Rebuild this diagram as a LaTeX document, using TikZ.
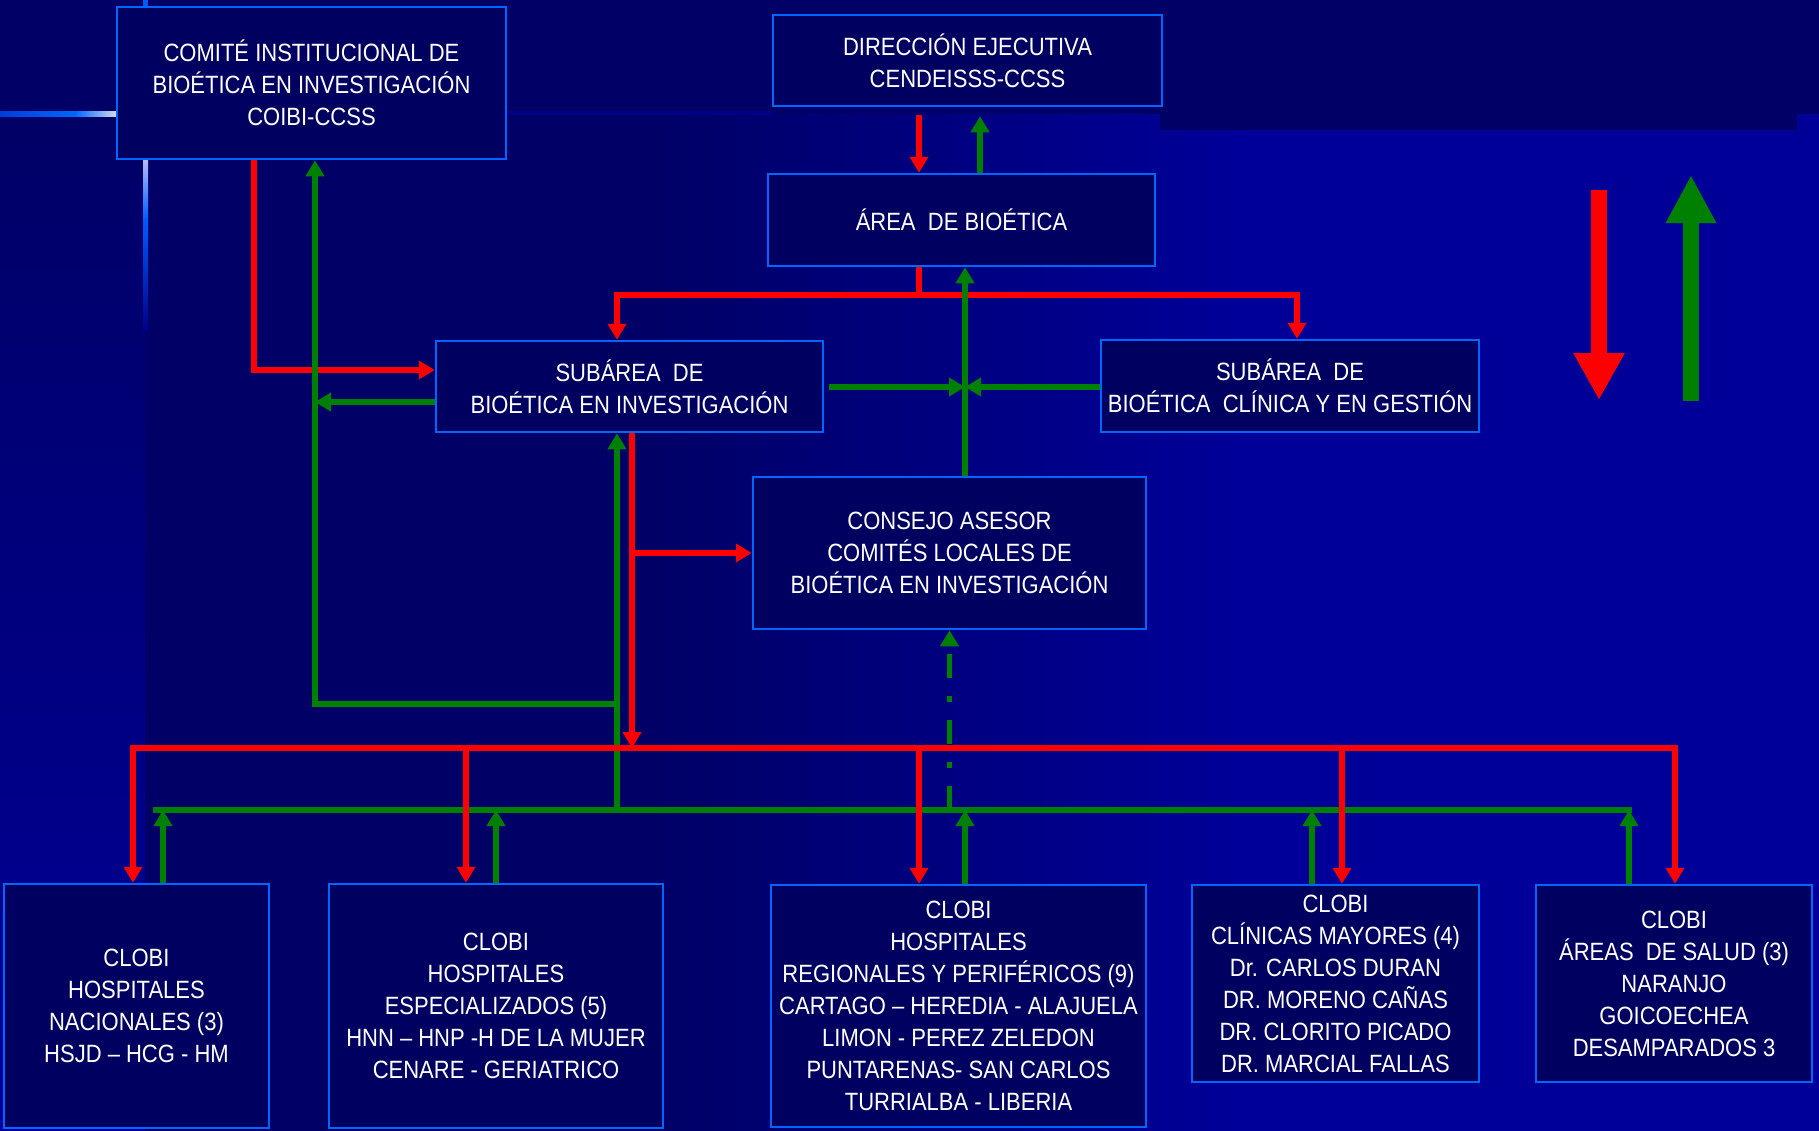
\documentclass[tikz,border=0pt]{standalone}
\usepackage{fontspec}
\setmainfont{Liberation Sans}[FakeStretch=0.88]
\usetikzlibrary{arrows.meta,calc}
\definecolor{bgdark}{RGB}{0,0,102}
\definecolor{bgblue}{RGB}{0,0,153}
\definecolor{stripbot}{RGB}{0,0,152}
\definecolor{boxfill}{RGB}{0,0,96}
\definecolor{boxline}{RGB}{0,102,255}
\definecolor{arred}{RGB}{255,0,0}
\definecolor{argreen}{RGB}{0,128,0}
\pgfdeclarehorizontalshading{bgh}{100bp}{color(0bp)=(bgdark); color(40bp)=(bgdark); color(58bp)=(bgblue); color(100bp)=(bgblue)}
\tikzset{
  box/.style={draw=boxline, line width=2.5pt, fill=boxfill, text=white,
    align=center, inner sep=0pt, font=\fontsize{25}{32}\selectfont},
  rl/.style={draw=arred, line width=5.5pt},
  gl/.style={draw=argreen, line width=5.5pt},
  arr/.style={-{Triangle[length=16pt,width=18pt]}},
  bus/.style={line cap=rect}
}
\begin{document}
\begin{tikzpicture}[x=1pt,y=-1pt]
\useasboundingbox (0,0) rectangle (1819,1130);
% background
\fill[bgblue] (0,0) rectangle (1819,1130);
\shade[shading=bgh] (145,113) rectangle (1819,1130);
\shade[top color=bgdark, bottom color=stripbot] (0,113) rectangle (145,1130);
\fill[bgdark] (0,0) rectangle (1819,114);
\fill[bgdark] (1160,0) rectangle (1797,130);
\fill[color={rgb,255:red,0;green,0;blue,135}] (506,111) rectangle (773,115);
\shade[left color={rgb,255:red,0;green,60;blue,220}, right color=boxline] (0,111) rectangle (75,116);
\shade[left color=boxline, right color={rgb,255:red,215;green,220;blue,235}] (75,111) rectangle (117,116);
\fill[color={rgb,255:red,0;green,90;blue,255}] (143,0) rectangle (148,8);
\shade[top color={rgb,255:red,180;green,190;blue,255}, bottom color={rgb,255:red,0;green,90;blue,255}] (143,159) rectangle (148,220);
\shade[top color={rgb,255:red,0;green,90;blue,255}, bottom color={rgb,255:red,0;green,0;blue,135}] (143,220) rectangle (148,330);
% legend arrows
\coordinate (lr1) at (1599,190); \coordinate (lr2) at (1599,400);
\coordinate (lg1) at (1691,401); \coordinate (lg2) at (1691,175);
\draw[draw=arred, line width=16pt, -{Triangle[length=47pt,width=48pt]}] (lr1) -- (lr2);
\draw[draw=argreen, line width=16pt, -{Triangle[length=48pt,width=47pt]}] (lg1) -- (lg2);
% boxes
\node[box, minimum width=389pt, minimum height=152pt] (coibi) at (311.5,83)
  {COMITÉ INSTITUCIONAL DE\\BIOÉTICA EN INVESTIGACIÓN\\COIBI-CCSS};
\node[box, minimum width=389pt, minimum height=91pt] (dir) at (967.5,60.5)
  {DIRECCIÓN EJECUTIVA\\CENDEISSS-CCSS};
\node[box, minimum width=387pt, minimum height=92pt] (area) at (961.5,220)
  {ÁREA\ \ DE BIOÉTICA};
\node[box, minimum width=387pt, minimum height=91pt] (subinv) at (629.5,386.5)
  {SUBÁREA\ \ DE\\BIOÉTICA EN INVESTIGACIÓN};
\node[box, minimum width=378pt, minimum height=92pt] (subcli) at (1290,386)
  {SUBÁREA\ \ DE\\BIOÉTICA\ \ CLÍNICA Y EN GESTIÓN};
\node[box, minimum width=393pt, minimum height=152pt] (consejo) at (949.5,553)
  {CONSEJO ASESOR\\COMITÉS LOCALES DE\\BIOÉTICA EN INVESTIGACIÓN};
\node[box, minimum width=265pt, minimum height=244pt] (b1) at (136.5,1006)
  {CLOBI\\HOSPITALES\\NACIONALES (3)\\HSJD – HCG - HM};
\node[box, minimum width=334pt, minimum height=244pt] (b2) at (496,1006)
  {CLOBI\\HOSPITALES\\ESPECIALIZADOS (5)\\HNN – HNP -H DE LA MUJER\\CENARE - GERIATRICO};
\node[box, minimum width=375pt, minimum height=242pt] (b3) at (958.5,1006)
  {CLOBI\\HOSPITALES\\REGIONALES Y PERIFÉRICOS (9)\\CARTAGO – HEREDIA - ALAJUELA\\LIMON - PEREZ ZELEDON\\PUNTARENAS- SAN CARLOS\\TURRIALBA - LIBERIA};
\node[box, minimum width=287pt, minimum height=197pt] (b4) at (1335.5,983.5)
  {CLOBI\\CLÍNICAS MAYORES (4)\\Dr. CARLOS DURAN\\DR. MORENO CAÑAS\\DR. CLORITO PICADO\\DR. MARCIAL FALLAS};
\node[box, minimum width=276pt, minimum height=197pt] (b5) at (1674,983.5)
  {CLOBI\\ÁREAS\ \ DE SALUD (3)\\NARANJO\\GOICOECHEA\\DESAMPARADOS 3};
% helper coordinates
\coordinate (rsplit) at (919,295);
\coordinate (gmeet) at (965,387);
\coordinate (gv) at (315,704);
\coordinate (gjoin) at (617,704);
\coordinate (gbusA) at (617,810);
\coordinate (rtap) at (632,553);
\coordinate (rbusL) at (133,748);
\coordinate (rbusR) at (1675,748);
\coordinate (rbusM) at (632,748);
\coordinate (gbusL) at (156,810);
\coordinate (gbusR) at (1629,810);
% top connectors
\draw[rl,arr] (coibi.south -| 254,0) |- (subinv.west |- 0,370);
\draw[rl,arr,shorten <=8pt] (dir.south -| 919,0) -- (area.north -| 919,0);
\draw[gl,arr,shorten >=9pt] (area.north -| 980,0) -- (dir.south -| 980,0);
\draw[rl] (area.south -| rsplit) -- (rsplit);
\draw[rl,arr] (rsplit) -| (subinv.north -| 617,0);
\draw[rl,arr] (rsplit) -| (subcli.north -| 1297,0);
\draw[gl,arr] (consejo.north -| gmeet) -- (area.south -| gmeet);
\draw[gl,arr,shorten <=5pt] (subinv.east |- gmeet) -- (gmeet);
\draw[gl,arr] (subcli.west |- gmeet) -- (gmeet);
\draw[gl,arr] (subinv.west |- 0,402) -- (gv |- 0,402);
\draw[gl,arr] (gjoin) -| (coibi.south -| gv);
\draw[gl,arr] (gbusA) -- (subinv.south -| gbusA);
\draw[rl,arr] (subinv.south -| rbusM) -- (rbusM);
\draw[rl,arr] (rtap) -- (consejo.west |- rtap);
\draw[gl,arr,dash pattern=on 24pt off 18pt on 6pt off 18pt] (consejo.south |- gbusA) -- (consejo.south);
% buses
\draw[rl,bus] (rbusL) -- (rbusR);
\draw[gl,bus] (gbusL) -- (gbusR);
% drops (red, down)
\draw[rl,arr] (rbusL) -- (b1.north -| rbusL);
\draw[rl,arr] (466,748) -- (b2.north -| 466,0);
\draw[rl,arr] (919,748) -- (b3.north -| 919,0);
\draw[rl,arr] (1342,748) -- (b4.north -| 1342,0);
\draw[rl,arr] (rbusR) -- (b5.north -| rbusR);
% ups (green, up)
\draw[gl,arr] (b1.north -| 163,0) -- (163,810);
\draw[gl,arr] (b2.north -| 496,0) -- (496,810);
\draw[gl,arr] (b3.north -| 965,0) -- (965,810);
\draw[gl,arr] (b4.north -| 1312,0) -- (1312,810);
\draw[gl,arr] (b5.north -| gbusR) -- (gbusR);
\end{tikzpicture}
\end{document}
